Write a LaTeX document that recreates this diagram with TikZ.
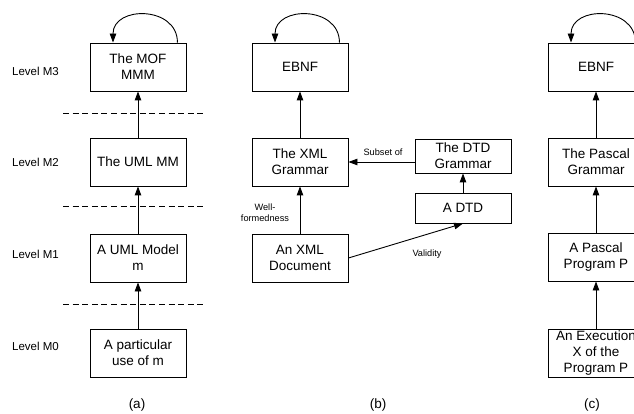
\documentclass[tikz,border=0pt]{standalone}
\usepackage{fontspec}
\setmainfont{Liberation Sans}
\usetikzlibrary{arrows.meta,calc}
\begin{document}
\begin{tikzpicture}[x=1pt,y=-1pt,
  box/.style={draw, line width=0.9pt, minimum width=96pt, minimum height=48pt, inner sep=0pt, align=center, font=\fontsize{13.5}{16}\selectfont},
  lvl/.style={anchor=west, inner sep=0pt, font=\fontsize{11.5}{13}\selectfont},
  lbl/.style={inner sep=0pt, align=center, font=\fontsize{9.2}{11}\selectfont},
  capt/.style={inner sep=0pt, font=\fontsize{13.5}{16}\selectfont},
  arr/.style={line width=0.9pt, -{Triangle[length=9pt,width=6.5pt]}},
  sep/.style={line width=0.9pt, dash pattern=on 6pt off 3.6pt}]
\useasboundingbox (0,0) rectangle (634,414);
\clip (0,0) rectangle (634,414);
% level labels
\node[lvl] (m3) at (12,71) {Level M3};
\node[lvl] (m2) at (12,162) {Level M2};
\node[lvl] (m1) at (12,254) {Level M1};
\node[lvl] (m0) at (12,346) {Level M0};
% separators
\draw[sep] (63,113) -- (207,113);
\draw[sep] (63,206) -- (207,206);
\draw[sep] (63,304) -- (207,304);
% column (a)
\node[box] (mof) at (138,67) {The MOF\\MMM};
\node[box] (umlmm) at (138,162) {The UML MM};
\node[box] (umlm) at (138,258) {A UML Model\\m};
\node[box] (use) at (138,353) {A particular\\use of m};
\node[capt] (ca) at (137,405) {(a)};
\draw[arr] (use) -- (umlm);
\draw[arr] (umlm) -- (umlmm);
\draw[arr] (umlmm) -- (mof);
\coordinate (a1) at ($(mof.north east)+(-9,0)$);
\coordinate (a2) at ($(mof.north)+(-25,0)$);
\draw[arr] (a1) .. controls +(0,-37) and +(0,-37) .. (a2);
% column (b)
\node[box] (ebnfb) at (300,67) {EBNF};
\node[box] (xmlg) at (300,162) {The XML\\Grammar};
\node[box] (xmld) at (300,258) {An XML\\Document};
\node[box, minimum height=34pt] (dtdg) at (463,156) {The DTD\\Grammar};
\node[box, minimum height=30pt] (dtd) at (463,208) {A DTD};
\node[capt] (cb) at (378,405) {(b)};
\draw[arr] (xmlg) -- (ebnfb);
\draw[arr] (xmld) -- (xmlg);
\draw[arr] (dtd) -- (dtdg);
\draw[arr] (dtdg.west |- xmlg.east) -- (xmlg.east);
\draw[arr] (xmld.east) -- (dtd.south);
\node[lbl] (sub) at (383,152) {Subset of};
\node[lbl] (wf) at (265,212.5) {Well-\\formedness};
\node[lbl] (val) at (427,254) {Validity};
\coordinate (b1) at ($(ebnfb.north east)+(-9,0)$);
\coordinate (b2) at ($(ebnfb.north)+(-25,0)$);
\draw[arr] (b1) .. controls +(0,-37) and +(0,-37) .. (b2);
% column (c)
\node[box] (ebnfc) at (596,67) {EBNF};
\node[box] (pg) at (596,162) {The Pascal\\Grammar};
\node[box] (pp) at (596,257) {A Pascal\\Program P};
\node[box] (ex) at (596,353) {An Execution\\X of the\\Program P};
\node[capt] (cc) at (592,405) {(c)};
\draw[arr] (ex) -- (pp);
\draw[arr] (pp) -- (pg);
\draw[arr] (pg) -- (ebnfc);
\coordinate (c1) at ($(ebnfc.north east)+(-9,0)$);
\coordinate (c2) at ($(ebnfc.north)+(-25,0)$);
\draw[arr] (c1) .. controls +(0,-37) and +(0,-37) .. (c2);
\end{tikzpicture}
\end{document}
